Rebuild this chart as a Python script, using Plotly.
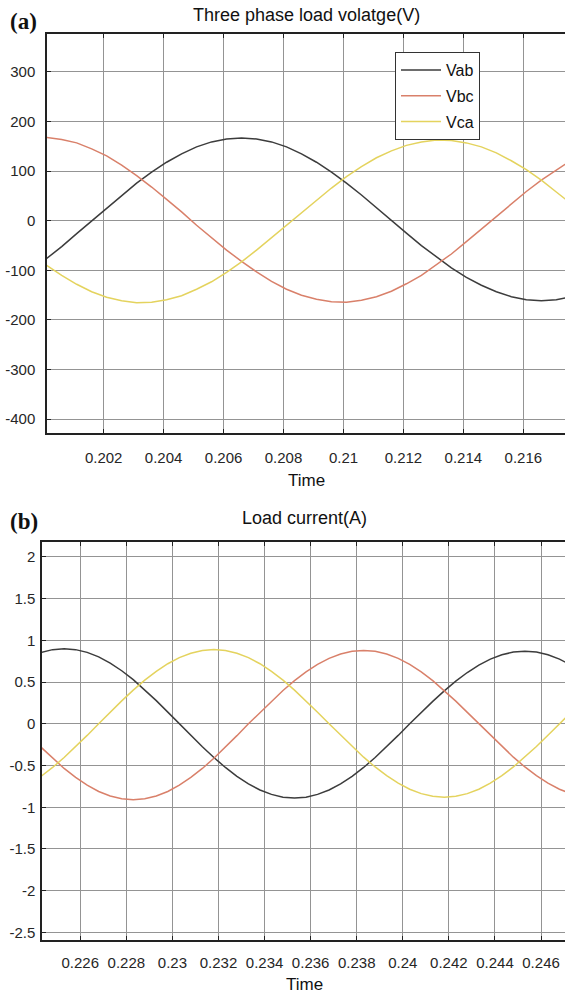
import plotly.graph_objects as go

# ---------------- Panel (a): three phase load voltage ----------------
time_a = [0.2001, 0.2006, 0.2011, 0.2016, 0.2021, 0.2026, 0.2031, 0.2036, 0.2041, 0.2046,
          0.2051, 0.2056, 0.2061, 0.2066, 0.2071, 0.2076, 0.2081, 0.2086, 0.2091, 0.2096,
          0.2101, 0.2106, 0.2111, 0.2116, 0.2121, 0.2126, 0.2131, 0.2136, 0.2141, 0.2146,
          0.2151, 0.2156, 0.2161, 0.2166, 0.2171, 0.2176]
vab = [-76, -52, -26, 0, 26, 52, 76, 98, 118, 135, 149, 159, 165, 167, 165, 159, 149, 135,
       118, 98, 76, 52, 26, 0, -25, -50, -73, -95, -114, -130, -143, -153, -159, -161, -159, -153]
vbc = [168, 164, 157, 145, 131, 112, 91, 68, 43, 18, -9, -34, -59, -82, -103, -122, -138, -150,
       -158, -163, -164, -160, -153, -142, -127, -110, -89, -67, -42, -17, 9, 34, 59, 82, 103, 122]
vca = [-90, -110, -128, -143, -154, -161, -165, -164, -159, -151, -138, -123, -104, -83, -59, -34,
       -9, 17, 42, 66, 89, 109, 127, 141, 152, 159, 163, 162, 157, 149, 137, 121, 103, 82, 58, 34]

xticks_a = [0.202, 0.204, 0.206, 0.208, 0.21, 0.212, 0.214, 0.216]
xticktext_a = ["0.202", "0.204", "0.206", "0.208", "0.21", "0.212", "0.214", "0.216"]
yticks_a = [-400, -300, -200, -100, 0, 100, 200, 300]
yticktext_a = ["-400", "-300", "-200", "-100", "0", "100", "200", "300"]

# ---------------- Panel (b): load current ----------------
time_b = [0.2243, 0.2248, 0.2253, 0.2258, 0.2263, 0.2268, 0.2273, 0.2278, 0.2283, 0.2288,
          0.2293, 0.2298, 0.2303, 0.2308, 0.2313, 0.2318, 0.2323, 0.2328, 0.2333, 0.2338,
          0.2343, 0.2348, 0.2353, 0.2358, 0.2363, 0.2368, 0.2373, 0.2378, 0.2383, 0.2388,
          0.2393, 0.2398, 0.2403, 0.2408, 0.2413, 0.2418, 0.2423, 0.2428, 0.2433, 0.2438,
          0.2443, 0.2448, 0.2453, 0.2458, 0.2463, 0.2468, 0.2473]
ia = [0.856, 0.889, 0.90, 0.889, 0.856, 0.802, 0.728, 0.636, 0.529, 0.409, 0.278, 0.140, 0.0,
      -0.139, -0.275, -0.404, -0.523, -0.629, -0.720, -0.793, -0.846, -0.879, -0.89, -0.879,
      -0.846, -0.793, -0.720, -0.629, -0.523, -0.404, -0.275, -0.139, 0.0, 0.136, 0.269, 0.395,
      0.512, 0.615, 0.704, 0.775, 0.827, 0.860, 0.87, 0.860, 0.827, 0.775, 0.704]
ib = [-0.281, -0.413, -0.535, -0.643, -0.736, -0.811, -0.865, -0.899, -0.91, -0.899, -0.865,
      -0.811, -0.736, -0.643, -0.535, -0.413, -0.281, -0.142, 0.0, 0.137, 0.272, 0.400, 0.517,
      0.622, 0.712, 0.784, 0.837, 0.869, 0.88, 0.869, 0.837, 0.784, 0.712, 0.622, 0.517, 0.400,
      0.272, 0.137, 0.0, -0.137, -0.272, -0.400, -0.517, -0.622, -0.712, -0.784, -0.837]
ic = [-0.629, -0.523, -0.404, -0.275, -0.139, 0.0, 0.139, 0.275, 0.404, 0.523, 0.629, 0.720,
      0.793, 0.846, 0.879, 0.89, 0.879, 0.846, 0.793, 0.720, 0.629, 0.523, 0.404, 0.275, 0.139,
      0.0, -0.137, -0.272, -0.400, -0.517, -0.622, -0.712, -0.784, -0.837, -0.869, -0.88, -0.869,
      -0.837, -0.784, -0.712, -0.622, -0.517, -0.400, -0.272, -0.137, 0.0, 0.137]

xticks_b = [0.226, 0.228, 0.23, 0.232, 0.234, 0.236, 0.238, 0.24, 0.242, 0.244, 0.246]
xticktext_b = ["0.226", "0.228", "0.23", "0.232", "0.234", "0.236", "0.238", "0.24", "0.242",
               "0.244", "0.246"]
yticks_b = [-2.5, -2, -1.5, -1, -0.5, 0, 0.5, 1, 1.5, 2]
yticktext_b = ["-2.5", "-2", "-1.5", "-1", "-0.5", "0", "0.5", "1", "1.5", "2"]

series_names = ["Vab", "Vbc", "Vca"]
colors = ["#3c3c3c", "#d9806a", "#e4d35e"]

W, H = 565, 999
FONT = "Liberation Sans, Arial, sans-serif"

fig = go.Figure()
for name, vals, col in zip(series_names, [vab, vbc, vca], colors):
    fig.add_trace(go.Scatter(x=time_a, y=vals, mode="lines", name=name, legendgroup=name,
                             line=dict(color=col, width=1.5), xaxis="x", yaxis="y"))
for vals, col in zip([ia, ib, ic], colors):
    fig.add_trace(go.Scatter(x=time_b, y=vals, mode="lines", showlegend=False,
                             line=dict(color=col, width=1.5), xaxis="x2", yaxis="y2"))

def px_x(p):
    return p / W

def px_y(p):
    return 1 - p / H

axis_common = dict(showgrid=True, gridcolor="#949494", gridwidth=1, showline=True,
                   linecolor="#222222", linewidth=1.5, ticks="inside", ticklen=4,
                   tickcolor="#222222", zeroline=False, automargin=False,
                   tickfont=dict(family=FONT, size=15, color="#262626"))

fig.update_layout(
    width=W, height=H, margin=dict(l=0, r=0, t=0, b=0, autoexpand=False),
    paper_bgcolor="white", plot_bgcolor="white",
    xaxis=dict(domain=[px_x(47), 1], range=[0.20011, 0.21739], anchor="y",
               tickvals=xticks_a, ticktext=xticktext_a, mirror="ticks",
               ticklabelstandoff=10, **axis_common),
    yaxis=dict(domain=[px_y(433), px_y(34)], range=[-427.8, 376.5], anchor="x",
               tickvals=yticks_a, ticktext=yticktext_a, ticklabelstandoff=7, **axis_common),
    xaxis2=dict(domain=[px_x(42), 1], range=[0.22434, 0.24704], anchor="y2",
                tickvals=xticks_b, ticktext=xticktext_b, mirror="ticks",
                ticklabelstandoff=8, **axis_common),
    yaxis2=dict(domain=[px_y(940), px_y(542)], range=[-2.591, 2.179], anchor="x2",
                tickvals=yticks_b, ticktext=yticktext_b, ticklabelstandoff=2, **axis_common),
    legend=dict(x=px_x(395), y=px_y(52), xanchor="left", yanchor="top",
                bgcolor="white", bordercolor="#333333", borderwidth=1,
                font=dict(family=FONT, size=16, color="#111111"),
                traceorder="grouped", tracegroupgap=2, itemwidth=40),
    showlegend=True,
)

ann_font = dict(family=FONT, size=18, color="#111111")
lab_font = dict(family=FONT, size=17, color="#111111")
panel_font = dict(family="Liberation Serif, Times New Roman, serif", size=23, color="#111111")
annotations = [
    dict(text="<b>(a)</b>", x=px_x(8), y=px_y(22), xanchor="left", yanchor="middle", font=panel_font),
    dict(text="Three phase load volatge(V)", x=px_x(306), y=px_y(15), xanchor="center", yanchor="middle", font=ann_font),
    dict(text="Time", x=px_x(306), y=px_y(480), xanchor="center", yanchor="middle", font=lab_font),
    dict(text="<b>(b)</b>", x=px_x(8), y=px_y(521), xanchor="left", yanchor="middle", font=panel_font),
    dict(text="Load current(A)", x=px_x(304), y=px_y(518), xanchor="center", yanchor="middle", font=ann_font),
    dict(text="Time", x=px_x(304), y=px_y(984), xanchor="center", yanchor="middle", font=lab_font),
]
for a in annotations:
    a.update(xref="paper", yref="paper", showarrow=False)
fig.update_layout(annotations=annotations)

fig.write_html(
    "out.html",
    config={"displayModeBar": False},
    post_script="document.body.style.margin='0px';document.body.style.padding='0px';"
                "document.body.style.overflow='hidden';"
                "document.documentElement.style.overflow='hidden';",
)
